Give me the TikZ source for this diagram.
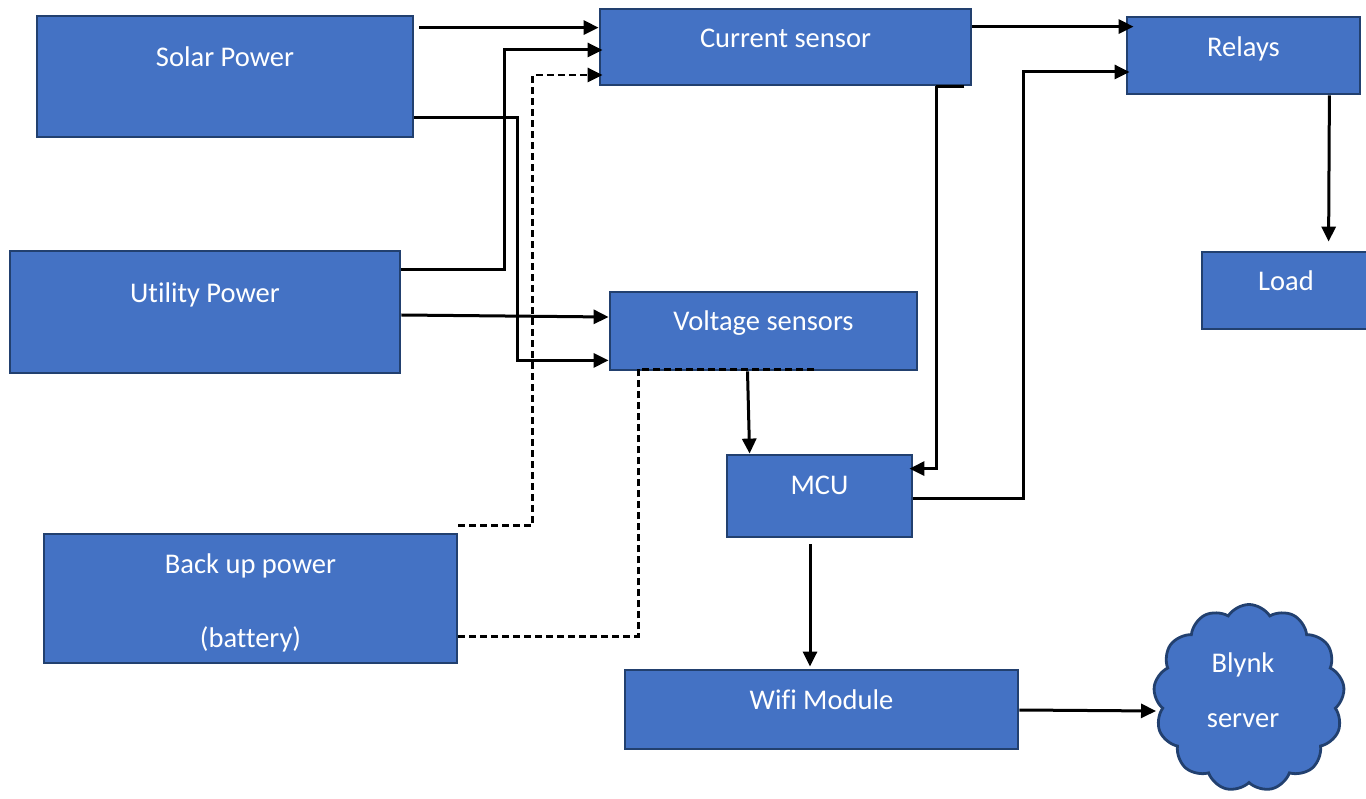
\documentclass[tikz,border=0pt]{standalone}
\usepackage{fontspec}
\setmainfont{Carlito}[RawFeature={-liga;-clig;-calt}]
\definecolor{blockfill}{HTML}{4472C4}
\definecolor{blockedge}{HTML}{22406F}
\usetikzlibrary{arrows.meta,calc,shapes.symbols}

\begin{document}
\begin{tikzpicture}[
  x=1pt,
  y=-1pt,
  line join=miter,
  block/.style={rectangle,draw=blockedge,fill=blockfill,line width=2.8pt,inner sep=0pt},
  cloudblock/.style={cloud,cloud puffs=13,cloud puff arc=115,aspect=1,draw=blockedge,fill=blockfill,line width=2.8pt,inner sep=0pt},
  blocklabel/.style={anchor=base,text=white,font=\fontsize{28.5}{34}\selectfont,inner sep=0pt},
  link/.style={draw=black,line width=3pt,-{Triangle[length=15pt,width=14pt]}},
  plain/.style={draw=black,line width=3pt},
  backup/.style={draw=black,line width=2.8pt,dash pattern=on 7pt off 4pt}
]
  \useasboundingbox (0,0) rectangle (1366,799);

  % blocks, centres and sizes in pixels of the sheet
  \node[block,minimum width=376,minimum height=121] (solar) at (225,76.5) {};
  \node[block,minimum width=390,minimum height=122] (utility) at (205,312) {};
  \node[block,minimum width=413,minimum height=129] (battery) at (250.5,598.5) {};
  \node[block,minimum width=371,minimum height=76] (current) at (785.5,47) {};
  \node[block,minimum width=307,minimum height=78] (voltage) at (763.5,331) {};
  \node[block,minimum width=185,minimum height=82] (mcu) at (819.5,496) {};
  \node[block,minimum width=233,minimum height=77] (relays) at (1243.5,55.5) {};
  \node[block,minimum width=168,minimum height=77] (load) at (1286,290.5) {};
  \node[block,minimum width=393,minimum height=79] (wifi) at (821.5,709.5) {};
  \node[cloudblock,minimum width=191,minimum height=187] (blynk) at (1249,698) {};

  \node[blocklabel] (solartext) at (225,67) {Solar Power};
  \node[blocklabel] (utilitytext) at (205,303) {Utility Power};
  \node[blocklabel] (batterytext) at (250.5,573) {Back up power};
  \node[blocklabel] (batterysub) at (250.5,647) {(battery)};
  \node[blocklabel] (currenttext) at (785.5,48) {Current sensor};
  \node[blocklabel] (voltagetext) at (763.5,331) {Voltage sensors};
  \node[blocklabel] (mcutext) at (819.5,494) {MCU};
  \node[blocklabel] (relaystext) at (1243.5,57) {Relays};
  \node[blocklabel] (loadtext) at (1286,291) {Load};
  \node[blocklabel] (wifitext) at (821.5,709) {Wifi Module};
  \node[blocklabel] (blynktext) at (1243,672) {Blynk};
  \node[blocklabel] (blynksub) at (1243,727) {server};

  % sources into the current sensor
  \coordinate (s1) at ($(solar.north east)+(5,13)$);
  \draw[link] (s1) -- (s1 -| current.west);
  \coordinate (u1) at ($(utility.north east)+(0,20)$);
  \draw[link] (u1) -- ++(103,0) |- ($(current.west)+(4,3)$);
  \coordinate (b1) at ($(battery.north east)+(0,-7)$);
  \draw[backup] (b1) -- ++(74,0) |- ($(current.west)+(0,28)$);
  \draw[link] ($(current.west)+(-8,28)$) -- ($(current.west)+(4,28)$);

  % sources into the voltage sensors
  \coordinate (s2) at ($(solar.south east)+(0,-21)$);
  \draw[link] (s2) -- ++(103,0) |- ($(voltage.south west)+(0,-11)$);
  \draw[link] ($(utility.east)+(0,3)$) -- ($(voltage.west)+(0,-14)$);
  \coordinate (b2) at ($(battery.south east)+(0,-28)$);
  \draw[backup] (b2) -- ++(180,0) |- ($(voltage.south west)+(205,-2)$);

  % sensors to MCU
  \draw[link] ($(voltage.south)+(-16,0)$) -- ($(mcu.north west)+(24,0)$);
  \draw[plain] ($(current.south east)+(-8,0)$) -- ++(-28,0);
  \draw[link] ($(current.south east)+(-36,0)$) |- ($(mcu.north east)+(-4,15)$);

  % MCU outputs
  \draw[link] ($(mcu.east)+(0,2)$) -- ++(110,0) |- ($(relays.west)+(4,16.5)$);
  \draw[link] ($(current.north east)+(0,19)$) -- ($(relays.north west)+(8,11)$);
  \draw[link] ($(relays.south east)+(-32,0)$) -- ($(load.north west)+(128,-9)$);
  \draw[link] ($(mcu.south)+(-9.5,6)$) -- ($(wifi.north)+(-11.5,-2)$);
  \draw[link] ($(wifi.east)+(0,0.5)$) -- ($(blynk.west)+(2,13)$);
\end{tikzpicture}
\end{document}
